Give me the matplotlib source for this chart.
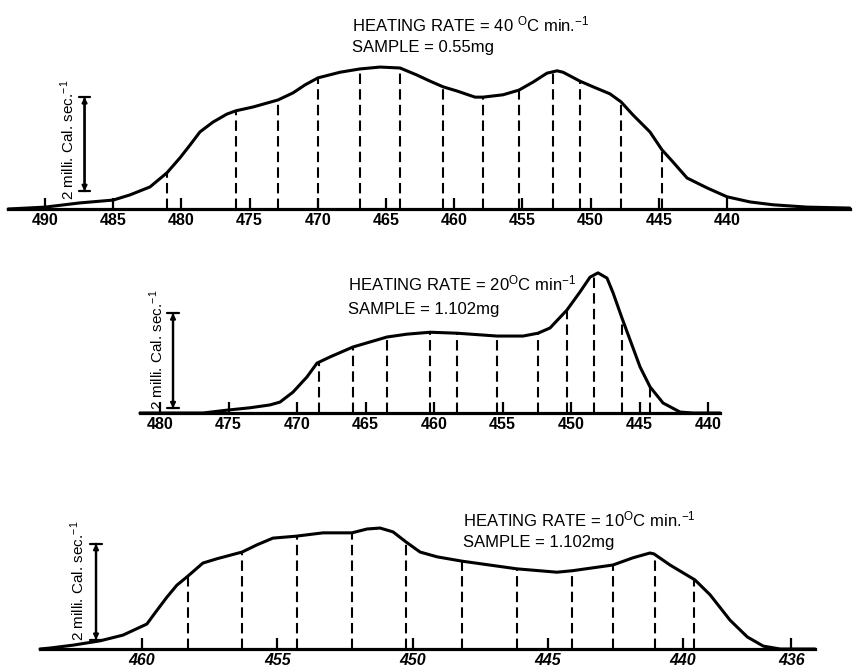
import numpy as np
import matplotlib.pyplot as plt

plt.rcParams['font.family'] = ['Liberation Sans', 'DejaVu Sans']
plt.rcParams['mathtext.fontset'] = 'custom'
plt.rcParams['mathtext.rm'] = 'Liberation Sans'
plt.rcParams['mathtext.it'] = 'Liberation Sans:italic'

W, H = 854, 669

# ---- run 1: 40 C/min, 0.55 mg (temperature in C, heat flow in mcal/s) ----
t40 = [492.7, 490.0, 487.43, 485.0, 483.77, 482.3, 481.06, 480.1, 479.37, 478.64,
       477.68, 476.66, 476.0, 474.75, 472.92, 471.82, 470.94, 469.99, 468.37, 466.91,
       465.44, 463.97, 462.73, 461.77, 460.82, 459.79, 458.47, 457.89, 456.42, 455.25,
       454.22, 453.2, 452.46, 452.02, 450.78, 449.82, 448.58, 447.77, 446.89, 445.65,
       444.77, 443.96, 442.93, 441.47, 440.0, 438.31, 436.63, 434.13, 431.0]
q40 = [0.0, 0.04, 0.13, 0.19, 0.3, 0.47, 0.77, 1.09, 1.36, 1.64,
       1.85, 2.02, 2.09, 2.17, 2.32, 2.47, 2.64, 2.79, 2.91, 2.98,
       3.02, 3.0, 2.85, 2.72, 2.6, 2.51, 2.38, 2.38, 2.43, 2.53,
       2.7, 2.89, 2.94, 2.91, 2.72, 2.6, 2.45, 2.28, 2.0, 1.64,
       1.26, 1.0, 0.66, 0.45, 0.26, 0.15, 0.09, 0.04, 0.02]
cuts40 = [481.06, 476.0, 472.92, 469.99, 466.91, 463.97, 460.82, 457.89,
          455.25, 452.75, 450.78, 447.77, 444.77]
ticks40 = [490, 485, 480, 475, 470, 465, 460, 455, 450, 445, 440]

# ---- run 2: 20 C/min, 1.102 mg ----
t20 = [481.46, 476.86, 475.11, 473.43, 471.97, 471.24, 470.29, 469.27, 468.54, 467.59,
       465.91, 463.43, 461.97, 460.29, 458.32, 455.4, 453.5, 452.41, 451.53, 450.29,
       449.34, 448.61, 448.03, 447.37, 446.93, 446.28, 445.69, 444.96, 444.23, 443.28,
       442.04, 441.09, 439.12]
q20 = [0.0, 0.0, 0.06, 0.11, 0.17, 0.23, 0.44, 0.76, 1.05, 1.18,
       1.39, 1.6, 1.66, 1.7, 1.68, 1.62, 1.62, 1.68, 1.79, 2.17,
       2.55, 2.86, 2.95, 2.84, 2.53, 2.0, 1.54, 0.97, 0.55, 0.21,
       0.02, 0.0, 0.0]
cuts20 = [468.4, 465.91, 463.43, 460.29, 458.32, 455.4, 452.41, 450.29,
          448.3, 446.28, 444.23]
ticks20 = [480, 475, 470, 465, 460, 455, 450, 445, 440]

# ---- run 3: 10 C/min, 1.102 mg ----
t10 = [463.77, 463.4, 462.55, 461.55, 460.7, 459.82, 459.52, 459.08, 458.71, 458.3,
       457.75, 457.23, 456.3, 455.75, 455.16, 454.31, 453.31, 452.24, 451.68, 451.2,
       450.72, 450.24, 449.72, 449.09, 448.17, 446.14, 444.66, 444.1, 442.59, 441.85,
       441.22, 441.07, 440.48, 439.56, 439.0, 438.26, 437.62, 437.03, 436.41, 435.12]
q10 = [0.0, 0.02, 0.08, 0.17, 0.29, 0.52, 0.75, 1.08, 1.33, 1.52,
       1.79, 1.88, 2.02, 2.17, 2.31, 2.35, 2.42, 2.42, 2.5, 2.52,
       2.44, 2.23, 2.02, 1.92, 1.83, 1.67, 1.6, 1.63, 1.75, 1.9,
       2.0, 1.98, 1.75, 1.44, 1.13, 0.6, 0.25, 0.06, 0.0, 0.0]
cuts10 = [458.3, 456.3, 454.27, 452.24, 450.24, 448.17, 446.14, 444.1,
          442.59, 441.04, 439.6]
ticks10 = [460, 455, 450, 445, 440, 436]

fig = plt.figure(figsize=(W / 100, H / 100), dpi=100)


def panel(top, bottom, base, ppu, t_a, x_a, t_b, x_b):
    # full-width axes, scaled so the temperatures fall where the chart paper had them
    s = (x_b - x_a) / (t_a - t_b)
    ax = fig.add_axes([0, 1 - bottom / H, 1, (bottom - top) / H])
    ax.set_xlim(t_a + x_a / s, t_a - (W - x_a) / s)
    ax.set_ylim(-(bottom - base) / ppu, (base - top) / ppu)
    ax.patch.set_visible(False)
    for side in ['top', 'left', 'right']:
        ax.spines[side].set_visible(False)
    ax.spines['bottom'].set_position(('data', 0))
    ax.spines['bottom'].set_linewidth(2.3)
    ax.set_yticks([])
    return ax


def draw(ax, t, q, cuts, ticks, italic=False):
    t = np.asarray(t)
    q = np.asarray(q)
    ax.spines['bottom'].set_bounds(t.min(), t.max())
    ax.plot(t, q, color='black', lw=2.2, solid_joinstyle='round',
            solid_capstyle='round')
    for tc in cuts:
        h = np.interp(tc, t[::-1], q[::-1])
        ax.plot([tc, tc], [0, h], color='black', lw=1.5, ls=(0, (5, 2.5)))
    ax.set_xticks(ticks)
    ax.set_xticklabels([str(v) for v in ticks], fontsize=11.5, fontweight='bold',
                       style='italic' if italic else 'normal')
    ax.tick_params(axis='x', direction='in', length=8, width=1.6, pad=3)


def scale_bar(ax, t_bar, q0, lab_x, lab_y):
    ax.annotate('', xy=(t_bar, q0 + 2), xytext=(t_bar, q0),
                arrowprops=dict(arrowstyle='<|-|>', lw=1.6, color='black',
                                mutation_scale=7, shrinkA=0, shrinkB=0))
    ax.annotate('', xy=(t_bar, q0 + 2), xytext=(t_bar, q0),
                arrowprops=dict(arrowstyle='|-|, widthA=0.5, widthB=0.5',
                                lw=1.6, color='black', mutation_scale=8,
                                shrinkA=0, shrinkB=0))
    fig.text(lab_x / W, 1 - lab_y / H, '2 milli. Cal. sec.$^{-1}$',
             rotation=90, ha='center', va='bottom', fontsize=11)


ax1 = panel(0, 230, 209, 47, 490, 45, 440, 727)
draw(ax1, t40, q40, cuts40, ticks40)
scale_bar(ax1, 487.1, 0.38, 68, 200)
fig.text(352 / W, 1 - 31 / H, 'HEATING RATE = 40 $^{\\mathrm{O}}$C min.$^{-1}$',
         ha='left', va='baseline', fontsize=12)
fig.text(352 / W, 1 - 52 / H, 'SAMPLE = 0.55mg', ha='left', va='baseline',
         fontsize=12)

ax2 = panel(230, 440, 413, 47.5, 480, 160, 440, 708)
draw(ax2, t20, q20, cuts20, ticks20)
scale_bar(ax2, 479.05, 0.10, 157, 410)
fig.text(348 / W, 1 - 290 / H, 'HEATING RATE = 20$^{\\mathrm{O}}$C min$^{-1}$',
         ha='left', va='baseline', fontsize=12)
fig.text(348 / W, 1 - 314 / H, 'SAMPLE = 1.102mg', ha='left', va='baseline',
         fontsize=12)

ax3 = panel(440, 669, 649, 48, 460, 142, 440, 683)
draw(ax3, t10, q10, cuts10, ticks10, italic=True)
scale_bar(ax3, 461.7, 0.19, 78, 641)
fig.text(463 / W, 1 - 526 / H, 'HEATING RATE = 10$^{\\mathrm{O}}$C min.$^{-1}$',
         ha='left', va='baseline', fontsize=12)
fig.text(463 / W, 1 - 547 / H, 'SAMPLE = 1.102mg', ha='left', va='baseline',
         fontsize=12)

fig.savefig('out.png', dpi=100)
plt.close(fig)
